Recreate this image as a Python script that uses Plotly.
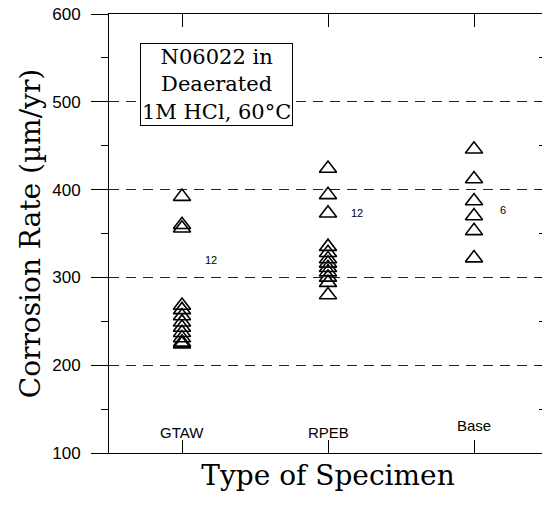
import plotly.graph_objects as go

categories = ["GTAW", "RPEB", "Base"]
gtaw = [392, 360, 356, 268, 263, 256, 249, 243, 237, 231, 226, 224]
rpeb = [424, 394, 373, 335, 328, 321, 316, 311, 306, 300, 294, 280]
base = [446, 412, 387, 370, 353, 322]
counts = ["12", "12", "6"]
count_y = [320, 373, 377]
label_y = [123, 123, 131]
yticks = [100, 200, 300, 400, 500, 600]

serif = "DejaVu Serif"
sans = "Liberation Sans"

fig = go.Figure()
for cat, vals in zip(categories, [gtaw, rpeb, base]):
    fig.add_trace(go.Scatter(
        x=[cat] * len(vals), y=vals, mode="markers",
        marker=dict(symbol="triangle-up-open", size=15, color="black",
                    line=dict(width=1.6, color="black")),
        showlegend=False, hoverinfo="y"))

# helper trace (invisible) to register the mirrored top/right axes
fig.add_trace(go.Scatter(x=categories, y=[yticks[0]] * 3, xaxis="x2", yaxis="y2",
                         mode="markers", marker=dict(opacity=0), showlegend=False,
                         hoverinfo="skip"))

annotations = []
for i, cat in enumerate(categories):
    annotations.append(dict(x=cat, y=label_y[i], xref="x", yref="y", text=cat,
                            showarrow=False, font=dict(family=sans, size=15, color="black")))
    annotations.append(dict(x=i + 0.2, y=count_y[i], xref="x", yref="y", text=counts[i],
                            showarrow=False, font=dict(family=sans, size=11, color="black")))

annotations.append(dict(
    x=0.071, y=0.934, xref="paper", yref="paper", xanchor="left", yanchor="top",
    text="N06022 in<br>Deaerated<br>1M HCl, 60°C", showarrow=False, align="center",
    font=dict(family=serif, size=21, color="black"),
    bordercolor="black", borderwidth=1, borderpad=1, bgcolor="white"))

# page body has an 8px margin, so the figure is sized to fit the 550x506 window
fig.update_layout(
    width=542, height=498,
    margin=dict(l=101, r=3, t=6, b=53, autoexpand=False),
    plot_bgcolor="white", paper_bgcolor="white",
    annotations=annotations,
    xaxis=dict(type="category", categoryorder="array", categoryarray=categories,
               range=[-0.5, 2.5], showticklabels=False, ticks="inside", ticklen=13,
               tickcolor="black", showline=True, linecolor="black", linewidth=1,
               showgrid=False, zeroline=False, automargin=False,
               title=dict(text="Type of Specimen", font=dict(family=serif, size=28, color="black"),
                          standoff=12)),
    xaxis2=dict(type="category", categoryorder="array", categoryarray=categories,
                range=[-0.5, 2.5], overlaying="x", side="top", showticklabels=False,
                ticks="inside", ticklen=13, tickcolor="black", showline=True,
                linecolor="black", linewidth=1, showgrid=False, zeroline=False,
                automargin=False),
    yaxis=dict(range=[100, 600], tickvals=yticks, ticks="outside", ticklen=17,
               tickcolor="black", tickfont=dict(family=sans, size=17, color="black"),
               ticklabelstandoff=7, ticklabeloverflow="allow",
               minor=dict(ticks="outside", ticklen=7, dtick=50, tick0=100, tickcolor="black",
                          showgrid=False),
               showline=True, linecolor="black", linewidth=1,
               showgrid=True, gridcolor="#222222", gridwidth=1, griddash="10px,7px",
               zeroline=False, automargin=False,
               title=dict(text="Corrosion Rate (µm/yr)", font=dict(family=serif, size=28, color="black"),
                          standoff=3)),
    yaxis2=dict(range=[100, 600], tickvals=yticks, overlaying="y", side="right",
                showticklabels=False, ticks="inside", ticklen=8, tickcolor="black",
                minor=dict(ticks="inside", ticklen=8, dtick=50, tick0=100, tickcolor="black"),
                showline=True, linecolor="black", linewidth=1, showgrid=False, zeroline=False,
                automargin=False),
)

fig.write_html("out.html")
